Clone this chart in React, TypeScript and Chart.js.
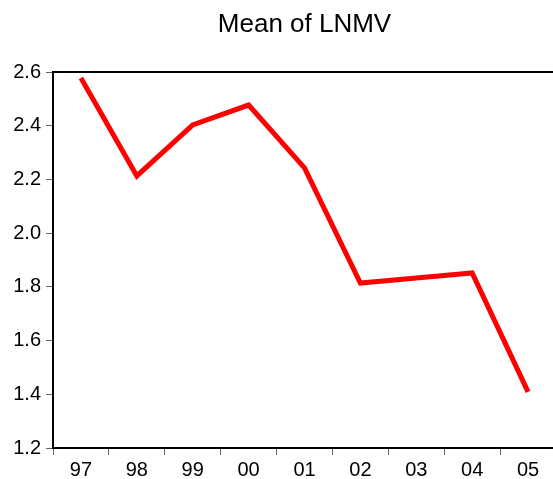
import React, { useEffect, useRef } from "react";
import { Chart, registerables } from "chart.js";

Chart.register(...registerables);

const categories = ["97", "98", "99", "00", "01", "02", "03", "04", "05"];
const meanLNMV = [2.578, 2.213, 2.403, 2.477, 2.243, 1.814, 1.833, 1.852, 1.409];
const yTicks = [1.2, 1.4, 1.6, 1.8, 2.0, 2.2, 2.4, 2.6];
const titleText = "Mean of LNMV";

const topBorder = {
  id: "topBorder",
  afterDraw(chart: any) {
    const { ctx, chartArea } = chart;
    ctx.save();
    ctx.strokeStyle = "#000";
    ctx.lineWidth = 2;
    ctx.beginPath();
    ctx.moveTo(chartArea.left - 1, chartArea.top);
    ctx.lineTo(chartArea.right + 2, chartArea.top);
    ctx.stroke();
    ctx.restore();
  },
};

export default function App() {
  const ref = useRef<HTMLCanvasElement>(null);
  useEffect(() => {
    if (!ref.current) return;
    const font = { family: "'Liberation Sans', Arial, sans-serif", size: 20 };
    const chart = new Chart(ref.current, {
      type: "line",
      data: {
        labels: categories,
        datasets: [
          {
            data: meanLNMV,
            borderColor: "#ff0000",
            borderWidth: 5,
            pointRadius: 0,
            borderJoinStyle: "miter",
            borderCapStyle: "butt",
            tension: 0,
            fill: false,
          },
        ],
      },
      options: {
        responsive: false,
        animation: false,
        layout: { padding: 0 },
        plugins: {
          legend: { display: false },
          tooltip: { enabled: false },
          title: {
            display: true,
            text: titleText,
            fullSize: false,
            color: "#000",
            font: { family: "'Liberation Sans', Arial, sans-serif", size: 26, weight: "normal" },
            padding: { top: 9.4, bottom: 31.4 },
          },
        },
        scales: {
          x: {
            type: "category",
            offset: true,
            grid: {
              offset: true,
              drawOnChartArea: false,
              drawTicks: true,
              tickLength: 7,
              color: "#666",
              lineWidth: 1,
            },
            border: { display: true, color: "#000", width: 2 },
            ticks: { color: "#000", font, padding: 3, maxRotation: 0, autoSkip: false },
            afterFit: (s: any) => {
              s.height = 31;
            },
          },
          y: {
            min: 1.2,
            max: 2.6,
            afterBuildTicks: (s: any) => {
              s.ticks = yTicks.map((v) => ({ value: v }));
            },
            grid: {
              drawOnChartArea: false,
              drawTicks: true,
              tickLength: 7,
              color: "#666",
              lineWidth: 1,
            },
            border: { display: true, color: "#000", width: 2 },
            ticks: {
              color: "#000",
              font,
              padding: 5,
              callback: (v: any) => Number(v).toFixed(1),
            },
            afterFit: (s: any) => {
              s.width = 53;
            },
          },
        },
      },
      plugins: [topBorder],
    } as any);
    return () => chart.destroy();
  }, []);
  return (
    <div
      style={{
        position: "fixed",
        left: 0,
        top: 0,
        width: 553,
        height: 479,
        overflow: "hidden",
        background: "#fff",
      }}
    >
      <canvas ref={ref} width={556} height={479} style={{ width: 556, height: 479, display: "block" }} />
    </div>
  );
}
